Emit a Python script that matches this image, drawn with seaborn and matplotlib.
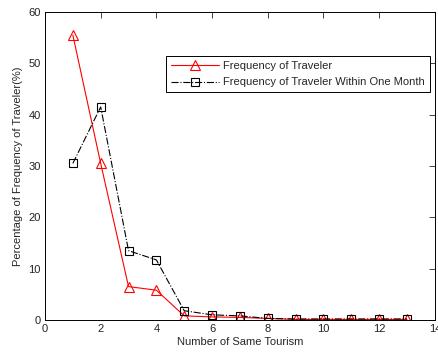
import matplotlib
matplotlib.use("Agg")
import matplotlib.pyplot as plt
import seaborn as sns
import pandas as pd

x_vals = [1, 2, 3, 4, 5, 6, 7, 8, 9, 10, 11, 12, 13]
traveler = [55.5, 30.5, 6.5, 5.8, 0.8, 0.6, 0.5, 0.3, 0.1, 0.1, 0.1, 0.1, 0.1]
traveler_month = [30.5, 41.5, 13.5, 11.7, 1.8, 1.0, 0.8, 0.3, 0.2, 0.2, 0.2, 0.2, 0.2]
label_a = "Frequency of Traveler"
label_b = "Frequency of Traveler Within One Month"

sns.set_style("white")
plt.rcParams['font.family'] = ['Liberation Sans', 'DejaVu Sans']

fig = plt.figure(figsize=(4.39, 3.52), dpi=100)
ax = fig.add_axes([0.1025, 0.091, 0.888, 0.875])

df = pd.DataFrame({"x": x_vals, "a": traveler, "b": traveler_month})
sns.lineplot(data=df, x="x", y="a", ax=ax, color="red", lw=0.8, marker="^",
             markersize=7, markerfacecolor="none", markeredgecolor="red",
             markeredgewidth=0.8, label=label_a)
sns.lineplot(data=df, x="x", y="b", ax=ax, color="black", lw=0.8, marker="s",
             markersize=6, markerfacecolor="none", markeredgecolor="black",
             markeredgewidth=0.8, linestyle="-.", label=label_b)

ax.set_xlim(0, 14)
ax.set_ylim(0, 60)
ax.set_xticks(range(0, 15, 2))
ax.set_yticks(range(0, 61, 10))
ax.tick_params(direction="in", top=True, right=True, labelsize=8, length=4, width=0.6, pad=3,
               labelcolor="#222222")
for s in ax.spines.values():
    s.set_linewidth(0.7)
    s.set_color("black")
ax.set_xlabel("Number of Same Tourism", fontsize=8, labelpad=2)
ax.set_ylabel("Percentage of Frequency of Traveler(%)", fontsize=8, labelpad=4)

leg = ax.legend(loc="upper right", bbox_to_anchor=(0.987, 0.856), fontsize=8,
                frameon=True, fancybox=False, edgecolor="black", framealpha=1,
                borderpad=0.45, labelspacing=0.55, handlelength=4.3, handletextpad=0.4,
                borderaxespad=0)
leg.get_frame().set_linewidth(0.7)

fig.savefig("out.png", dpi=100)
